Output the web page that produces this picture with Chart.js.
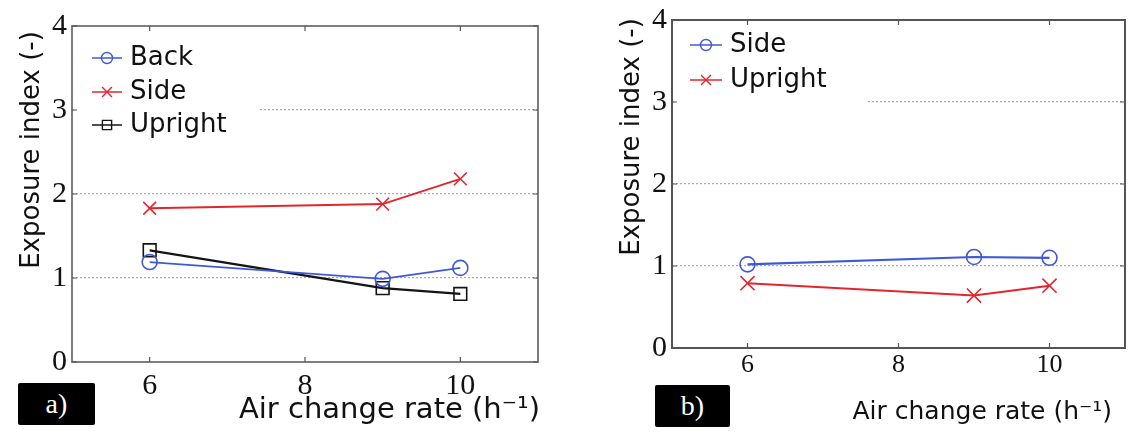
<!DOCTYPE html>
<html><head><meta charset="utf-8">
<script src="https://cdn.jsdelivr.net/npm/chart.js@4"></script>
<style>
html,body{margin:0;padding:0;background:#fff;width:1128px;height:439px;overflow:hidden;position:relative}
.panel{position:absolute;top:0;height:439px}
#pa{left:0;width:560px}
#pb{left:560px;width:568px}
canvas{display:block}
.tag{position:absolute;background:#000;color:#fff;font-family:'Liberation Serif','Times New Roman',serif;font-size:28px;text-align:center;border-radius:2px}
</style></head><body>
<div class="panel" id="pa"><canvas id="ca" width="560" height="439"></canvas></div>
<div class="panel" id="pb"><canvas id="cb" width="568" height="439"></canvas></div>
<div class="tag" style="left:18px;top:383px;width:77px;height:42px;line-height:42px">a)</div>
<div class="tag" style="left:655px;top:385px;width:75px;height:42px;line-height:42px">b)</div>
<script>
// ---- data ----
const xValues = [6, 9, 10];
const xTickLabels = [6, 8, 10];
const yTickLabels = [0, 1, 2, 3, 4];
const aBack = [1.19, 0.99, 1.12];
const aSide = [1.83, 1.88, 2.18];
const aUpright = [1.33, 0.88, 0.81];
const bSide = [1.02, 1.11, 1.10];
const bUpright = [0.79, 0.64, 0.76];
const xTitle = 'Air change rate (h\u207B\u00B9)';
const yTitle = 'Exposure index (-)';

const BLUE = '#4259d6', RED = '#e3262e', BLACK = '#141414';
const pts = arr => xValues.map((x, i) => ({x: x, y: arr[i]}));

function ownDrawPoint(ctx, o, x, y) {
  const r = o.radius;
  ctx.beginPath();
  if (o.pointStyle === 'circle') { ctx.arc(x, y, r, 0, Math.PI * 2); }
  else if (o.pointStyle === 'rect') { const s = r * Math.SQRT1_2; ctx.rect(x - s, y - s, 2 * s, 2 * s); }
  else { const s = r * Math.SQRT1_2; ctx.moveTo(x - s, y - s); ctx.lineTo(x + s, y + s); ctx.moveTo(x - s, y + s); ctx.lineTo(x + s, y - s); }
  ctx.stroke();
}

const framePlugin = {
  id: 'frame',
  beforeDatasetsDraw(chart, args, o) {
    const ctx = chart.ctx, a = chart.chartArea;
    ctx.save();
    ctx.fillStyle = '#fff';
    ctx.fillRect(a.left + 2, a.top + 2, o.boxRight - a.left - 2, o.boxBottom - a.top - 2);
    ctx.restore();
  },
  afterDatasetsDraw(chart, args, o) {
    const ctx = chart.ctx;
    ctx.save();
    chart.data.datasets.forEach((ds, i) => {
      const y = o.rows[i];
      ctx.strokeStyle = ds.borderColor;
      ctx.lineWidth = 1.5;
      ctx.beginPath(); ctx.moveTo(o.lineX0, y); ctx.lineTo(o.lineX1, y); ctx.stroke();
      ctx.fillStyle = 'rgba(0,0,0,0)';
      ctx.lineWidth = 1.4;
      const mx = (o.lineX0 + o.lineX1) / 2;
      const po = {pointStyle: ds.pointStyle, radius: o.markerR[i], borderWidth: 1.4, rotation: 0};
      ownDrawPoint(ctx, po, mx, y);
      ctx.fillStyle = '#111';
      ctx.font = o.legendFont;
      ctx.textAlign = 'left'; ctx.textBaseline = 'middle';
      ctx.fillText(ds.label, o.textX, y);
    });
    ctx.restore();
  },
  afterDraw(chart, args, o) {
    const ctx = chart.ctx, a = chart.chartArea;
    const xs = chart.scales.x, ys = chart.scales.y;
    ctx.save();
    ctx.strokeStyle = o.frameColor; ctx.lineWidth = o.frameWidth;
    ctx.strokeRect(a.left, a.top, a.right - a.left, a.bottom - a.top);
    ctx.lineWidth = 1.2; ctx.strokeStyle = '#555';
    ctx.beginPath();
    xTickLabels.forEach(v => {
      const px = xs.getPixelForValue(v);
      ctx.moveTo(px, a.bottom); ctx.lineTo(px, a.bottom - 5);
      ctx.moveTo(px, a.top); ctx.lineTo(px, a.top + 5);
    });
    yTickLabels.forEach(v => {
      const py = ys.getPixelForValue(v);
      ctx.moveTo(a.left, py); ctx.lineTo(a.left + 5, py);
      ctx.moveTo(a.right, py); ctx.lineTo(a.right - 5, py);
    });
    ctx.stroke();
    // axis titles
    ctx.fillStyle = '#111';
    ctx.font = o.xTitleFont; ctx.textAlign = 'right'; ctx.textBaseline = 'middle';
    ctx.fillText(xTitle, o.xTitleX, o.xTitleY);
    ctx.translate(o.yTitleX, o.yTitleY); ctx.rotate(-Math.PI / 2);
    ctx.font = o.yTitleFont; ctx.textAlign = 'center'; ctx.textBaseline = 'middle';
    ctx.fillText(yTitle, 0, 0);
    ctx.restore();
  }
};

function makeChart(id, datasets, cfg) {
  return new Chart(document.getElementById(id), {
    type: 'line',
    data: {datasets: datasets},
    plugins: [framePlugin],
    options: {
      responsive: false, animation: false, devicePixelRatio: 1,
      layout: {autoPadding: false, padding: {left: 0, right: cfg.padRight, top: cfg.padTop, bottom: 0}},
      plugins: {legend: {display: false}, tooltip: {enabled: false}, frame: cfg.frame},
      scales: {
        x: {
          type: 'linear', min: 5, max: 11,
          afterBuildTicks: s => { s.ticks = xTickLabels.map(v => ({value: v})); },
          afterFit: s => { s.height = cfg.xHeight; s.paddingLeft = 0; s.paddingRight = 0; },
          grid: {display: false, drawTicks: false},
          border: {display: false},
          ticks: {padding: cfg.xPad, color: '#111', maxRotation: 0, autoSkip: false,
                  font: {family: "'Liberation Serif', 'Times New Roman', serif", size: cfg.xFont}}
        },
        y: {
          type: 'linear', min: 0, max: 4,
          afterBuildTicks: s => { s.ticks = yTickLabels.map(v => ({value: v})); },
          afterFit: s => { s.width = cfg.yWidth; s.paddingTop = 0; s.paddingBottom = 0; },
          grid: {drawTicks: false, lineWidth: 1.2,
                 color: c => (c.tick && c.tick.value > 0 && c.tick.value < 4) ? '#aaaaaa' : 'rgba(0,0,0,0)'},
          border: {display: false, dash: [2, 2]},
          ticks: {padding: 5, color: '#111',
                  font: {family: "'Liberation Serif', 'Times New Roman', serif", size: 30}}
        }
      }
    }
  });
}

const lineDs = (label, arr, color, style, r, lw) => ({
  label: label, data: pts(arr), borderColor: color, backgroundColor: 'rgba(0,0,0,0)',
  borderWidth: lw, pointStyle: style, pointRadius: r, pointBorderWidth: 1.6,
  pointBorderColor: color, pointBackgroundColor: 'rgba(0,0,0,0)', tension: 0, fill: false
});

makeChart('ca', [
  lineDs('Back', aBack, BLUE, 'circle', 7.5, 1.8),
  lineDs('Side', aSide, RED, 'crossRot', 9, 2),
  lineDs('Upright', aUpright, BLACK, 'rect', 9, 2.3)
], {
  padRight: 22, padTop: 26, xHeight: 77, yWidth: 72, xPad: 6, xFont: 30,
  frame: {boxRight: 260, boxBottom: 145, lineX0: 92, lineX1: 122, textX: 130,
          rows: [58, 92, 125], markerR: [5.5, 7, 6.5], legendFont: "26px 'DejaVu Sans'",
          frameColor: '#707070', frameWidth: 1.8,
          xTitleFont: "29px 'DejaVu Sans'", xTitleX: 540, xTitleY: 410,
          yTitleFont: "26px 'DejaVu Sans'", yTitleX: 32, yTitleY: 150}
});

makeChart('cb', [
  lineDs('Side', bSide, BLUE, 'circle', 7.5, 2.2),
  lineDs('Upright', bUpright, RED, 'crossRot', 10, 2)
], {
  padRight: 3, padTop: 20, xHeight: 91, yWidth: 112, xPad: 2, xFont: 26,
  frame: {boxRight: 307, boxBottom: 112, lineX0: 130, lineX1: 162, textX: 170,
          rows: [45, 80], markerR: [5.5, 7], legendFont: "26px 'DejaVu Sans'",
          frameColor: '#555', frameWidth: 2,
          xTitleFont: "25px 'DejaVu Sans'", xTitleX: 552, xTitleY: 412,
          yTitleFont: "26px 'DejaVu Sans'", yTitleX: 72, yTitleY: 137}
});
</script>
</body></html>
